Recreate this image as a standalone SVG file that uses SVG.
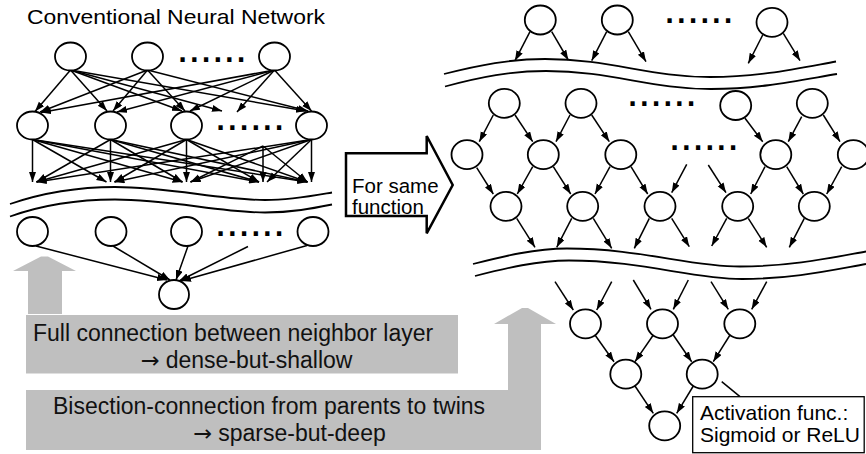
<svg xmlns="http://www.w3.org/2000/svg" width="866" height="454" viewBox="0 0 866 454">
  <defs>
    <marker id="ah" markerUnits="userSpaceOnUse" markerWidth="11" markerHeight="8" refX="10" refY="3.5" orient="auto">
      <path d="M0,0 L10,3.5 L0,7 Z" fill="#000"/>
    </marker>
    <style>
      .n { fill: #fff; stroke: #000; stroke-width: 1.8; }
      .c { fill: none; stroke: #000; stroke-width: 1.5; marker-end: url(#ah); }
      .w { fill: none; stroke: #000; stroke-width: 1.8; }
      .g { fill: #bfbfbf; stroke: none; }
      .t { font-family: "Liberation Sans", Arial, sans-serif; fill: #000; }
      .gt { font-family: "Liberation Sans", Arial, sans-serif; fill: #111; font-size: 23px; }
      .arr { font-family: "DejaVu Sans", sans-serif; font-size: 22.5px; }
      .dots { font-family: "DejaVu Sans", sans-serif; font-weight: bold; font-size: 24px; letter-spacing: 2.6px; fill: #000; }
    </style>
  </defs>

  <rect width="866" height="454" fill="#fff"/>

  <!-- grey explanation panels with upward arrows -->
  <g id="note-dense">
    <polygon class="g" points="28,314 28,271 13,271 41,256.5 48,256.5 76,271 62,271 62,314"/>
    <rect class="g" x="26" y="315" width="432" height="58.5"/>
    <text class="gt" x="33" y="340.5">Full connection between neighbor layer</text>
    <text class="gt" x="140.5" y="367.5"><tspan class="arr">→</tspan> dense-but-shallow</text>
  </g>
  <g id="note-sparse">
    <polygon class="g" points="508,390 508,324 494,324 522,308 528,308 556,324 541,324 541,450 26,450 26,390"/>
    <text class="gt" x="53" y="413.5">Bisection-connection from parents to twins</text>
    <text class="gt" x="193" y="440.5"><tspan class="arr">→</tspan> sparse-but-deep</text>
  </g>

  <text class="t" x="27" y="24" font-size="21" textLength="298" lengthAdjust="spacingAndGlyphs">Conventional Neural Network</text>

  <!-- layer breaks -->
  <g id="breaks">
    <path class="w" d="M10,204 C45,192 80,187 115,187 C170,187 220,200 265,200 C292,200 312,196 332,192.5"/>
    <path class="w" d="M10,216.5 C45,204 80,199.5 115,199.5 C170,199.5 220,212.5 265,212.5 C292,212.5 312,208.5 332,204.5"/>
    <path class="w" d="M444,74 C480,65 510,59 545,59 C610,59 650,77 710,77 C760,77 800,68 836,61.5"/>
    <path class="w" d="M445,86.5 C481,77 511,71 546,71 C611,71 651,89 711,89 C761,89 801,80 837,74"/>
    <path class="w" d="M473,264 C505,256 535,248.5 567,248.5 C640,248.5 690,266.5 740,266.5 C790,266.5 830,258 866,251.5"/>
    <path class="w" d="M475,276 C507,268 537,260.5 569,260.5 C642,260.5 692,279 742,279 C792,279 832,270 866,264"/>
  </g>

  <!-- connectors -->
  <g id="connectors">
    <!-- conventional: input layer to hidden layer -->
    <path class="c" d="M70.5,70 L35,111.5"/>
    <path class="c" d="M70.5,70 L107,111"/>
    <path class="c" d="M70.5,70 L182,111"/>
    <path class="c" d="M70.5,70 L222,111"/>
    <path class="c" d="M70.5,70 L306,111"/>
    <path class="c" d="M147.5,70 L40,112"/>
    <path class="c" d="M147.5,70 L113,111"/>
    <path class="c" d="M147.5,70 L185,111"/>
    <path class="c" d="M147.5,70 L308,111"/>
    <path class="c" d="M274.5,70 L41,112.5"/>
    <path class="c" d="M274.5,70 L117,112"/>
    <path class="c" d="M274.5,70 L190,111"/>
    <path class="c" d="M274.5,70 L237,112"/>
    <path class="c" d="M274.5,70 L311.5,111"/>
    <!-- conventional: hidden layer to next layer -->
    <path class="c" d="M32.5,139.5 L32.5,182"/>
    <path class="c" d="M32.5,139.5 L106.5,182"/>
    <path class="c" d="M32.5,139.5 L182.5,182"/>
    <path class="c" d="M32.5,139.5 L259,182"/>
    <path class="c" d="M32.5,139.5 L307.5,182"/>
    <path class="c" d="M110.5,139.5 L36.5,182"/>
    <path class="c" d="M110.5,139.5 L110.5,182"/>
    <path class="c" d="M110.5,139.5 L182.5,182"/>
    <path class="c" d="M110.5,139.5 L259,182"/>
    <path class="c" d="M110.5,139.5 L307.5,182"/>
    <path class="c" d="M186.5,139.5 L36.5,182"/>
    <path class="c" d="M186.5,139.5 L114.5,182"/>
    <path class="c" d="M186.5,139.5 L186.5,182"/>
    <path class="c" d="M186.5,139.5 L259,182"/>
    <path class="c" d="M186.5,139.5 L307.5,182"/>
    <path class="c" d="M311.5,139.5 L36.5,182"/>
    <path class="c" d="M311.5,139.5 L114.5,182"/>
    <path class="c" d="M311.5,139.5 L190.5,182"/>
    <path class="c" d="M311.5,139.5 L267,182"/>
    <path class="c" d="M311.5,139.5 L311.5,182"/>
    <path class="c" d="M263,146 L263,182"/>
    <path class="c" d="M263,146 L307.5,182"/>
    <path class="c" d="M263,146 L190.5,182"/>
    <!-- conventional: last layer to output -->
    <path class="c" d="M36,246 L167,280"/>
    <path class="c" d="M113,246 L170,280"/>
    <path class="c" d="M188,246 L176,280"/>
    <path class="c" d="M248,246.5 L179,281"/>
    <path class="c" d="M307,245.5 L181,281"/>

    <!-- bisection: top row -->
    <path class="c" d="M530,31.7 L515,60.7"/>
    <path class="c" d="M551.7,31.7 L568.3,60"/>
    <path class="c" d="M606.7,31.7 L591.7,60.7"/>
    <path class="c" d="M628.3,31.7 L646,61.7"/>
    <path class="c" d="M762.7,35 L748.3,63.3"/>
    <path class="c" d="M783.3,33.3 L800,60.7"/>
    <!-- bisection: second to third row -->
    <path class="c" d="M493.3,115 L479.3,141.7"/>
    <path class="c" d="M515,115 L532.7,141.7"/>
    <path class="c" d="M570,115 L556,141.7"/>
    <path class="c" d="M591.7,115 L609.3,141.7"/>
    <path class="c" d="M745,118.3 L762.7,141.7"/>
    <path class="c" d="M801.7,116.7 L788.3,141.7"/>
    <path class="c" d="M823.3,115 L840,141.7"/>
    <!-- bisection: third to fourth row -->
    <path class="c" d="M476.7,167.7 L493.3,194"/>
    <path class="c" d="M532.7,166.7 L517.3,194"/>
    <path class="c" d="M553.3,166.7 L570.7,194"/>
    <path class="c" d="M610,166.7 L595,194"/>
    <path class="c" d="M631,166.7 L647.7,194"/>
    <path class="c" d="M686.7,164.3 L671.7,192.7"/>
    <path class="c" d="M708.3,165 L726,192.7"/>
    <path class="c" d="M765,166.7 L750.7,194"/>
    <path class="c" d="M786.7,166.7 L803.3,194"/>
    <path class="c" d="M841.7,166.7 L826.7,194"/>
    <!-- bisection: fourth row downwards -->
    <path class="c" d="M516.7,218.3 L535,247.3"/>
    <path class="c" d="M571.7,218.3 L556.7,247.3"/>
    <path class="c" d="M593.3,218.3 L611.7,248.3"/>
    <path class="c" d="M649.3,218.3 L634.3,248.3"/>
    <path class="c" d="M671.7,218.3 L689.3,246.7"/>
    <path class="c" d="M726.7,218.3 L711.7,246"/>
    <path class="c" d="M748.3,218.3 L766.7,247.3"/>
    <path class="c" d="M804.3,218.3 L789.3,247.3"/>
    <!-- bisection: final merge tree -->
    <path class="c" d="M555,281.7 L573.3,310"/>
    <path class="c" d="M611.7,281.7 L596.7,310"/>
    <path class="c" d="M633.3,280 L651,309.3"/>
    <path class="c" d="M688.3,280 L673.3,309.3"/>
    <path class="c" d="M711,281.7 L728.3,309.3"/>
    <path class="c" d="M766.7,281.7 L751.7,309.3"/>
    <path class="c" d="M595,335 L614,361.7"/>
    <path class="c" d="M653.3,335 L635,361.7"/>
    <path class="c" d="M673.3,335 L691.7,361.7"/>
    <path class="c" d="M730,335 L713.3,361.7"/>
    <path class="c" d="M635,386 L653.3,413.3"/>
    <path class="c" d="M693.3,386 L676.7,413.3"/>
    <!-- callout leader -->
    <path d="M721.7,381.7 L740,396.7" fill="none" stroke="#000" stroke-width="1.5"/>
  </g>

  <!-- conventional network nodes -->
  <g id="conv-in-1"><ellipse class="n" cx="70.5" cy="56.5" rx="15.5" ry="14"/></g>
  <g id="conv-in-2"><ellipse class="n" cx="147.5" cy="56.5" rx="15.5" ry="14"/></g>
  <g id="conv-in-3"><ellipse class="n" cx="274.5" cy="56.5" rx="15.5" ry="14"/></g>
  <g id="conv-h-1"><ellipse class="n" cx="32.5" cy="125.5" rx="15.5" ry="14"/></g>
  <g id="conv-h-2"><ellipse class="n" cx="110.5" cy="125.5" rx="15.5" ry="14"/></g>
  <g id="conv-h-3"><ellipse class="n" cx="186.5" cy="125.5" rx="15.5" ry="14"/></g>
  <g id="conv-h-4"><ellipse class="n" cx="311.5" cy="125.5" rx="15.5" ry="14"/></g>
  <g id="conv-l-1"><ellipse class="n" cx="32.5" cy="231.5" rx="15.5" ry="14.5"/></g>
  <g id="conv-l-2"><ellipse class="n" cx="111" cy="231.5" rx="15.5" ry="14.5"/></g>
  <g id="conv-l-3"><ellipse class="n" cx="186.5" cy="231.5" rx="15.5" ry="14.5"/></g>
  <g id="conv-l-4"><ellipse class="n" cx="313" cy="231.5" rx="15.5" ry="14.5"/></g>
  <g id="conv-out"><ellipse class="n" cx="174" cy="294.5" rx="15" ry="14.5"/></g>

  <!-- bisection network nodes -->
  <g id="b1-1"><ellipse class="n" cx="540.3" cy="20" rx="15.5" ry="14.5"/></g>
  <g id="b1-2"><ellipse class="n" cx="617.3" cy="20" rx="15.5" ry="14.5"/></g>
  <g id="b1-3"><ellipse class="n" cx="772" cy="22.3" rx="15.5" ry="14.5"/></g>
  <g id="b2-1"><ellipse class="n" cx="504.3" cy="103.3" rx="15.5" ry="14.5"/></g>
  <g id="b2-2"><ellipse class="n" cx="581" cy="103.3" rx="15.5" ry="14.5"/></g>
  <g id="b2-3"><ellipse class="n" cx="735.7" cy="105.5" rx="15.5" ry="14.5"/></g>
  <g id="b2-4"><ellipse class="n" cx="812.3" cy="103.3" rx="15.5" ry="14.5"/></g>
  <g id="b3-1"><ellipse class="n" cx="467" cy="154.7" rx="15.5" ry="14.5"/></g>
  <g id="b3-2"><ellipse class="n" cx="543.3" cy="154.7" rx="15.5" ry="14.5"/></g>
  <g id="b3-3"><ellipse class="n" cx="620.8" cy="154.7" rx="15.5" ry="14.5"/></g>
  <g id="b3-4"><ellipse class="n" cx="775.8" cy="154.7" rx="15.5" ry="14.5"/></g>
  <g id="b3-5"><ellipse class="n" cx="853.3" cy="154.7" rx="15.5" ry="14.5"/></g>
  <g id="b4-1"><ellipse class="n" cx="506" cy="206.3" rx="15.5" ry="14.5"/></g>
  <g id="b4-2"><ellipse class="n" cx="582.7" cy="206.3" rx="15.5" ry="14.5"/></g>
  <g id="b4-3"><ellipse class="n" cx="660" cy="206.3" rx="15.5" ry="14.5"/></g>
  <g id="b4-4"><ellipse class="n" cx="737.7" cy="206.3" rx="15.5" ry="14.5"/></g>
  <g id="b4-5"><ellipse class="n" cx="814.3" cy="206.3" rx="15.5" ry="14.5"/></g>
  <g id="t1-1"><ellipse class="n" cx="585.5" cy="323.8" rx="15.5" ry="14.5"/></g>
  <g id="t1-2"><ellipse class="n" cx="662.5" cy="323.8" rx="15.5" ry="14.5"/></g>
  <g id="t1-3"><ellipse class="n" cx="739.8" cy="323.8" rx="15.5" ry="14.5"/></g>
  <g id="t2-1"><ellipse class="n" cx="625.8" cy="374.2" rx="15.5" ry="14.5"/></g>
  <g id="t2-2"><ellipse class="n" cx="702.2" cy="374.2" rx="15.5" ry="14.5"/></g>
  <g id="t3-out"><ellipse class="n" cx="664.7" cy="425.8" rx="15.5" ry="14.5"/></g>

  <!-- ellipsis marks for omitted nodes -->
  <g id="ellipses">
    <text class="dots" x="178" y="61.5">......</text>
    <text class="dots" x="216" y="129.5">......</text>
    <text class="dots" x="216" y="235.5">......</text>
    <text class="dots" x="665" y="23">......</text>
    <text class="dots" x="628" y="105.5">......</text>
    <text class="dots" x="670" y="150">......</text>
  </g>

  <!-- "for same function" block arrow -->
  <g id="same-function">
    <polygon points="346,153.3 426.7,153.3 426.7,136 452.7,185 426.7,233.3 426.7,216 346,216" fill="#fff" stroke="#000" stroke-width="2.5" stroke-linejoin="miter"/>
    <text class="t" x="352" y="193" font-size="20.5">For same</text>
    <text class="t" x="352" y="214" font-size="20.5">function</text>
  </g>

  <!-- activation function callout -->
  <g id="activation-note">
    <rect x="692.7" y="396.7" width="171.5" height="56" fill="#fff" stroke="#000" stroke-width="1.3"/>
    <text class="t" x="700" y="420" font-size="21">Activation func.:</text>
    <text class="t" x="700" y="442" font-size="21">Sigmoid or ReLU</text>
  </g>
</svg>
